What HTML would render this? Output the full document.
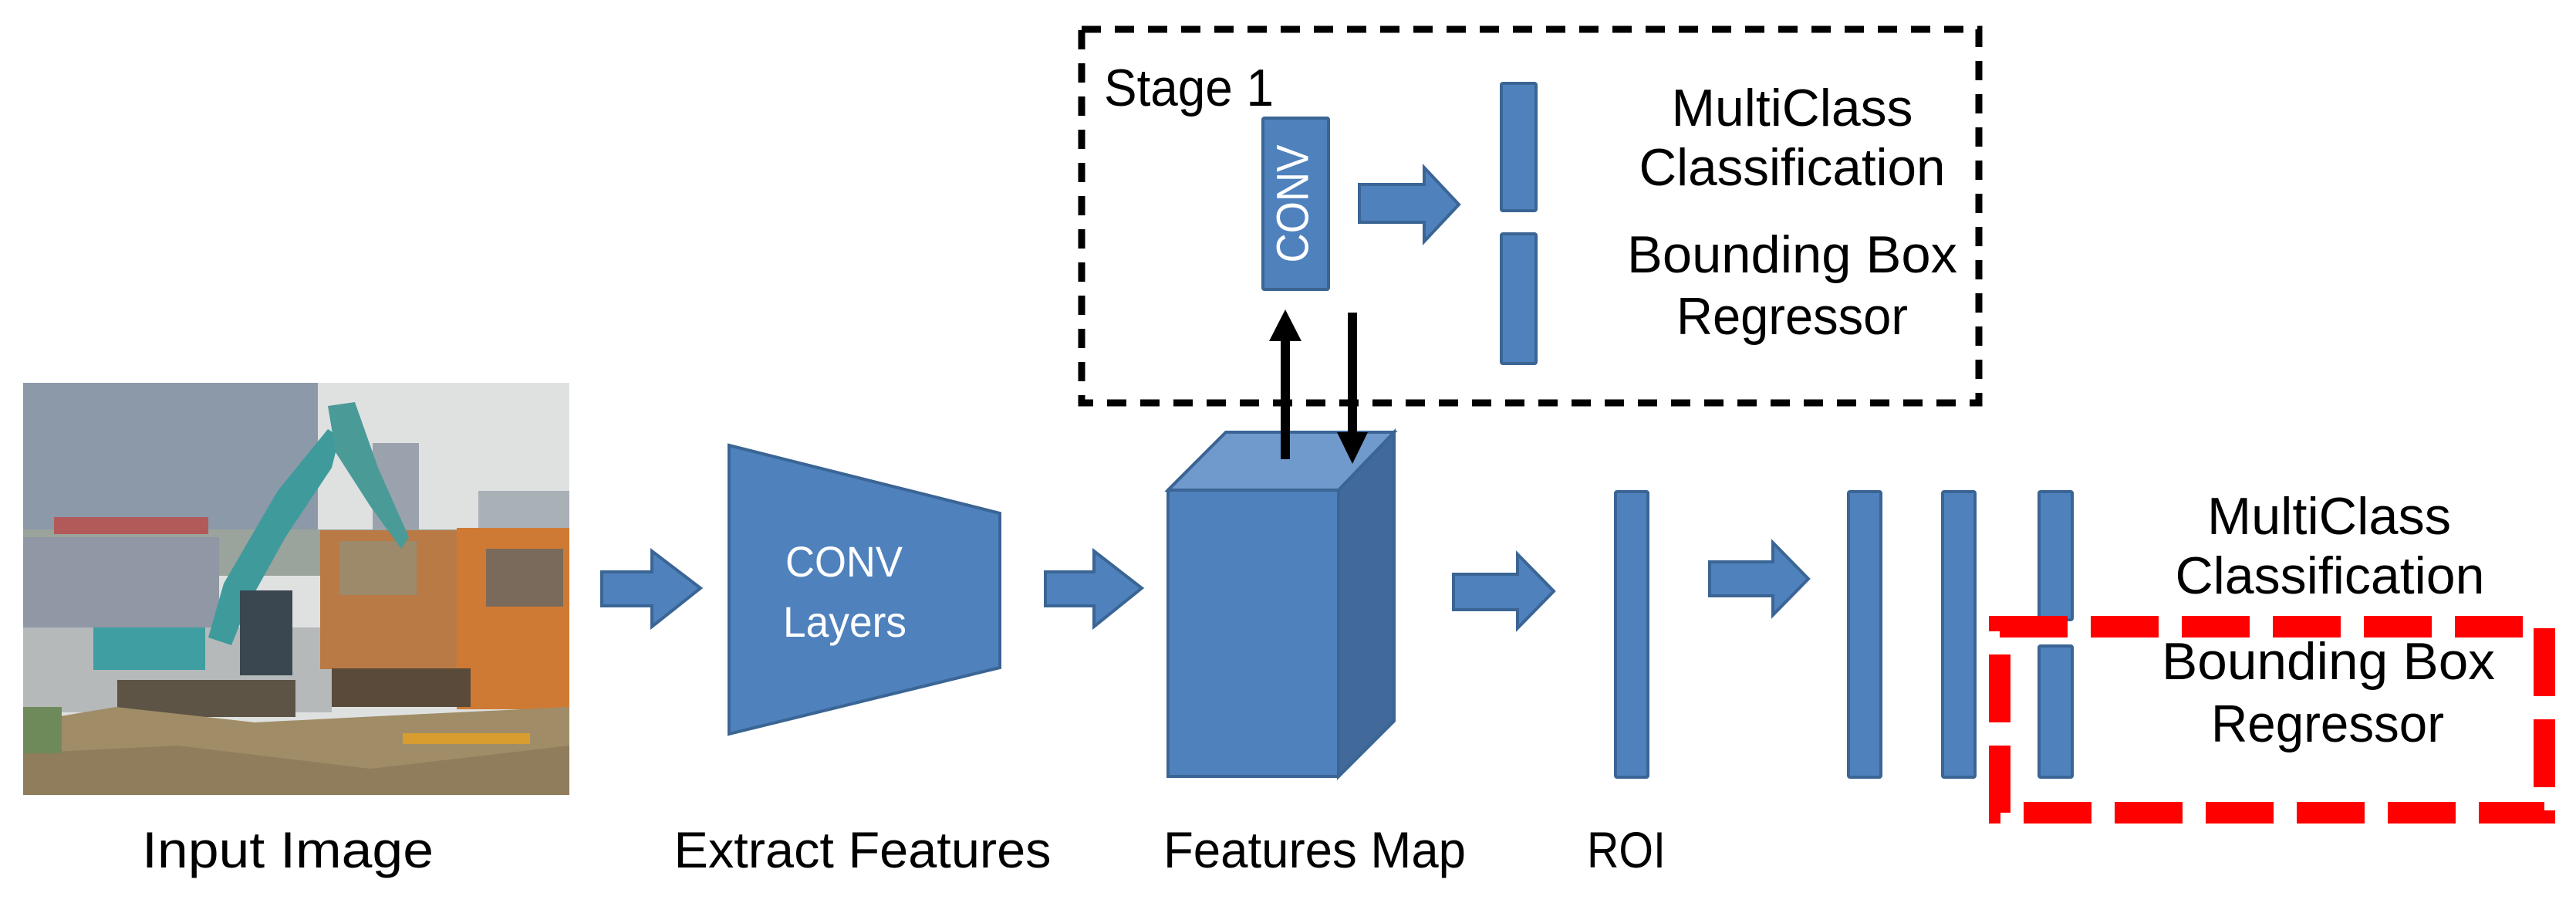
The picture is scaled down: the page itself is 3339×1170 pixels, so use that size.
<!DOCTYPE html>
<html><head><meta charset="utf-8"><style>
html,body{margin:0;padding:0;background:#fff;}
svg{display:block;}
text{font-family:"Liberation Sans",sans-serif;}
</style></head><body>
<svg width="3339" height="1170" viewBox="0 0 3339 1170" xmlns="http://www.w3.org/2000/svg">
<g transform="translate(30,496)">
  <rect x="0" y="0" width="708" height="534" fill="#dfe1e1"/>
  <rect x="0" y="0" width="382" height="210" fill="#8c99a9"/>
  <rect x="453" y="78" width="60" height="130" fill="#9aa3ad"/>
  <rect x="590" y="140" width="118" height="70" fill="#a9b0b6"/>
  <rect x="0" y="190" width="708" height="60" fill="#9aa39c"/>
  <rect x="0" y="200" width="254" height="120" fill="#8f98a4"/>
  <rect x="40" y="174" width="200" height="22" fill="#b25a5a"/>
  <rect x="0" y="317" width="400" height="110" fill="#b6b9ba"/>
  <rect x="385" y="191" width="180" height="180" fill="#b97a45"/>
  <rect x="410" y="205" width="100" height="70" fill="#9c8a6a"/>
  <rect x="562" y="188" width="146" height="235" fill="#cf7a34"/>
  <rect x="600" y="215" width="100" height="75" fill="#7a6a5c"/>
  <rect x="400" y="370" width="180" height="50" fill="#5a4a3a"/>
  <polygon points="240,330 260,260 330,140 395,60 410,70 400,110 340,200 290,290 270,340" fill="#3f9a9c"/>
  <polygon points="395,30 430,25 460,110 500,200 490,215 450,160 405,90" fill="#4a9a98"/>
  <rect x="91" y="317" width="145" height="55" fill="#3f9ea2"/>
  <rect x="281" y="269" width="68" height="110" fill="#3a4650"/>
  <rect x="122" y="385" width="231" height="48" fill="#5d5446"/>
  <polygon points="0,440 120,420 300,440 500,430 708,420 708,534 0,534" fill="#a08d68"/>
  <polygon points="0,480 200,470 450,500 708,470 708,534 0,534" fill="#8f7d5c"/>
  <rect x="0" y="420" width="50" height="60" fill="#6f8a5a"/>
  <rect x="492" y="454" width="165" height="14" fill="#e6a020" opacity="0.8"/>
</g>

<g fill="#4f81bd" stroke="#3a6594" stroke-width="4" stroke-linejoin="miter">
  <polygon points="780,741 845,741 845,714 908,762 845,812 845,785 780,785"/>
  <polygon points="945,577 1296,665 1296,865 945,951"/>
  <polygon points="1355,741 1418,741 1418,714 1480,762 1418,812 1418,785 1355,785"/>
  <polygon points="1514,1006 1735,1006 1807,934 1807,560 1589,560 1514,635" />
  <polygon points="1735,635 1807,560 1807,934 1735,1006" fill="#41699a"/>
  <polygon points="1514,635 1589,560 1807,560 1735,635" fill="#7099cc"/>
  <polygon points="1884,744 1967,744 1967,718 2014,766 1967,814 1967,790 1884,790"/>
  <rect x="2094" y="637" width="42" height="370" rx="2"/>
  <polygon points="2216,728 2298,728 2298,703 2344,750 2298,797 2298,772 2216,772"/>
  <rect x="2396" y="637" width="42" height="370" rx="2"/>
  <rect x="2518" y="637" width="42" height="370" rx="2"/>
  <rect x="2643" y="637" width="43" height="166" rx="2"/>
  <rect x="2643" y="837" width="43" height="170" rx="2"/>
  <rect x="1637" y="153" width="85" height="222" rx="2"/>
  <polygon points="1762,239 1846,239 1846,217 1891,265 1846,313 1846,288 1762,288"/>
  <rect x="1946" y="108" width="45" height="165" rx="2"/>
  <rect x="1946" y="303" width="45" height="168" rx="2"/>
</g>
<text x="1018" y="747" font-size="56" fill="#fff" textLength="152" lengthAdjust="spacingAndGlyphs">CONV</text>
<text x="1015" y="825" font-size="56" fill="#fff" textLength="160" lengthAdjust="spacingAndGlyphs">Layers</text>
<text x="1680" y="264" font-size="58" fill="#fff" text-anchor="middle" dominant-baseline="middle" transform="rotate(-90 1680 264)" textLength="153" lengthAdjust="spacingAndGlyphs">CONV</text>

<rect x="1402" y="38" width="1163" height="484" fill="none" stroke="#000" stroke-width="9" stroke-dasharray="25,18"/>
<text x="1431" y="137" font-size="68" textLength="220" lengthAdjust="spacingAndGlyphs">Stage 1</text>
<g font-size="68" text-anchor="middle">
<text x="2323" y="163" textLength="313" lengthAdjust="spacingAndGlyphs">MultiClass</text>
<text x="2323" y="240" textLength="397" lengthAdjust="spacingAndGlyphs">Classification</text>
<text x="2323" y="353" textLength="428" lengthAdjust="spacingAndGlyphs">Bounding Box</text>
<text x="2323" y="433" textLength="300" lengthAdjust="spacingAndGlyphs">Regressor</text>
</g>

<line x1="1666" y1="595" x2="1666" y2="438" stroke="#000" stroke-width="12"/>
<polygon points="1645,442 1687,442 1666,401" fill="#000"/>
<line x1="1753" y1="405" x2="1753" y2="565" stroke="#000" stroke-width="12"/>
<polygon points="1733,560 1773,560 1753,601" fill="#000"/>

<rect x="2592" y="812" width="706" height="241" fill="none" stroke="#ff0000" stroke-width="28" stroke-dasharray="88,30"/>
<g font-size="68" text-anchor="middle">
<text x="3019" y="692" textLength="316" lengthAdjust="spacingAndGlyphs">MultiClass</text>
<text x="3020" y="769" textLength="401" lengthAdjust="spacingAndGlyphs">Classification</text>
<text x="3018" y="880" textLength="432" lengthAdjust="spacingAndGlyphs">Bounding Box</text>
<text x="3017" y="961" textLength="302" lengthAdjust="spacingAndGlyphs">Regressor</text>
</g>

<g font-size="66" text-anchor="middle">
<text x="373" y="1124" textLength="378" lengthAdjust="spacingAndGlyphs">Input Image</text>
<text x="1118" y="1124" textLength="489" lengthAdjust="spacingAndGlyphs">Extract Features</text>
<text x="1704" y="1124" textLength="392" lengthAdjust="spacingAndGlyphs">Features Map</text>
<text x="2108" y="1124" textLength="102" lengthAdjust="spacingAndGlyphs">ROI</text>
</g>
</svg>
</body></html>
